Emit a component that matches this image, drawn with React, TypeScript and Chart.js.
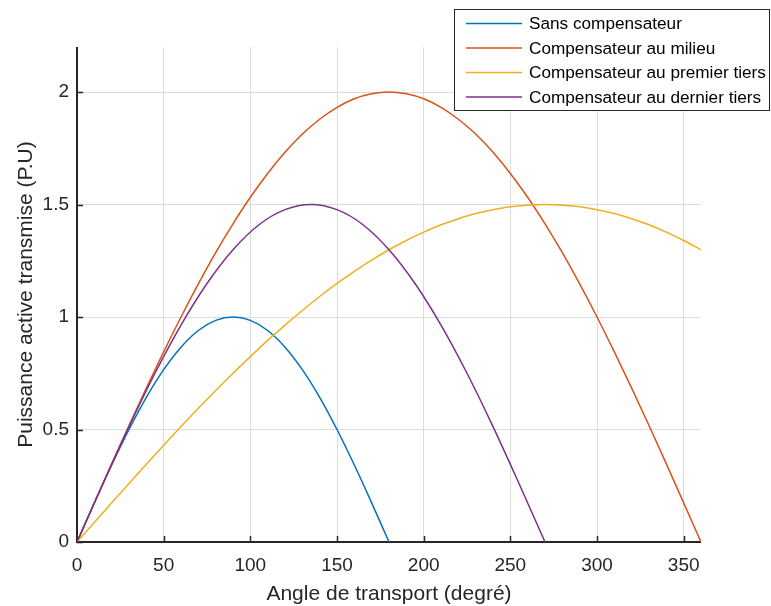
import React, { useEffect, useRef } from "react";
import { Chart, registerables } from "chart.js";

Chart.register(...registerables);

// ---- Data ----
const seriesLabels = [
  "Sans compensateur",
  "Compensateur au milieu",
  "Compensateur au premier tiers",
  "Compensateur au dernier tiers",
];
const seriesColors = ["#0072BD", "#D95319", "#EDB120", "#7E2F8E"];

const xSans = [0, 10, 20, 30, 40, 50, 60, 70, 80, 90, 100, 110, 120, 130, 140, 150, 160, 170, 180];
const ySans = [0, 0.174, 0.342, 0.5, 0.643, 0.766, 0.866, 0.94, 0.985, 1.0, 0.985, 0.94, 0.866, 0.766, 0.643, 0.5, 0.342, 0.174, 0];

const xMilieu = [0, 10, 20, 30, 40, 50, 60, 70, 80, 90, 100, 110, 120, 130, 140, 150, 160, 170, 180, 190, 200, 210, 220, 230, 240, 250, 260, 270, 280, 290, 300, 310, 320, 330, 340, 350, 360];
const yMilieu = [0, 0.174, 0.347, 0.518, 0.684, 0.845, 1.0, 1.147, 1.286, 1.414, 1.532, 1.638, 1.732, 1.813, 1.879, 1.932, 1.97, 1.992, 2.0, 1.992, 1.97, 1.932, 1.879, 1.813, 1.732, 1.638, 1.532, 1.414, 1.286, 1.147, 1.0, 0.845, 0.684, 0.518, 0.347, 0.174, 0];

const xPremier = [0, 10, 20, 30, 40, 50, 60, 70, 80, 90, 100, 110, 120, 130, 140, 150, 160, 170, 180, 190, 200, 210, 220, 230, 240, 250, 260, 270, 280, 290, 300, 310, 320, 330, 340, 350, 360];
const yPremier = [0, 0.087, 0.174, 0.26, 0.346, 0.43, 0.513, 0.594, 0.673, 0.75, 0.824, 0.896, 0.964, 1.029, 1.091, 1.149, 1.203, 1.253, 1.299, 1.34, 1.377, 1.41, 1.437, 1.46, 1.477, 1.49, 1.497, 1.5, 1.497, 1.49, 1.477, 1.46, 1.437, 1.41, 1.377, 1.34, 1.299];

const xDernier = [0, 15, 30, 45, 60, 75, 90, 105, 120, 135, 150, 165, 180, 195, 210, 225, 240, 255, 270];
const yDernier = [0, 0.26, 0.513, 0.75, 0.964, 1.149, 1.299, 1.41, 1.477, 1.5, 1.477, 1.41, 1.299, 1.149, 0.964, 0.75, 0.513, 0.26, 0];

const xTickValues = [0, 50, 100, 150, 200, 250, 300, 350];
const yTickValues = [0, 0.5, 1, 1.5, 2];

const xTitle = "Angle de transport (degré)";
const yTitle = "Puissance active transmise (P.U)";

const FONT = "'Liberation Sans', Arial, Helvetica, sans-serif";
const AXIS_COLOR = "#262626";

function toPoints(xs: number[], ys: number[]) {
  return xs.map((x, i) => ({ x, y: ys[i] }));
}

const decorPlugin = {
  id: "matlabDecor",
  beforeDraw(chart: any) {
    const ctx = chart.ctx;
    ctx.save();
    ctx.fillStyle = "#ffffff";
    ctx.fillRect(0, 0, chart.width, chart.height);
    ctx.restore();
  },
  beforeDatasetsDraw(chart: any) {
    const ctx = chart.ctx;
    const { left, right, top, bottom } = chart.chartArea;
    const xs = chart.scales.x;
    const ys = chart.scales.y;
    ctx.save();
    ctx.strokeStyle = AXIS_COLOR;
    ctx.lineWidth = 1.5;
    // inward ticks
    ctx.beginPath();
    for (const v of xTickValues) {
      const px = Math.round(xs.getPixelForValue(v)) + 0.5;
      ctx.moveTo(px, bottom);
      ctx.lineTo(px, bottom - 6);
    }
    for (const v of yTickValues) {
      const py = Math.round(ys.getPixelForValue(v)) + 0.5;
      ctx.moveTo(left, py);
      ctx.lineTo(left + 6, py);
    }
    ctx.stroke();
    // axis lines
    ctx.lineWidth = 2;
    ctx.beginPath();
    ctx.moveTo(left, top);
    ctx.lineTo(left, bottom);
    ctx.lineTo(right, bottom);
    ctx.stroke();
    ctx.restore();
  },
  afterDraw(chart: any) {
    const ctx = chart.ctx;
    const { left, right, top, bottom } = chart.chartArea;
    ctx.save();
    // axis titles
    ctx.fillStyle = AXIS_COLOR;
    ctx.font = `21px ${FONT}`;
    ctx.textAlign = "center";
    ctx.textBaseline = "alphabetic";
    ctx.fillText(xTitle, (left + right) / 2, 600);
    ctx.save();
    ctx.translate(32, (top + bottom) / 2);
    ctx.rotate(-Math.PI / 2);
    ctx.fillText(yTitle, 0, 0);
    ctx.restore();

    // legend
    const bx = 454.5, by = 9.5, bw = 315, bh = 101;
    ctx.fillStyle = "#ffffff";
    ctx.fillRect(bx, by, bw, bh);
    ctx.strokeStyle = AXIS_COLOR;
    ctx.lineWidth = 1;
    ctx.strokeRect(bx, by, bw, bh);
    const rows = [23.5, 48, 72.5, 97];
    ctx.font = `17.2px ${FONT}`;
    ctx.textAlign = "left";
    ctx.textBaseline = "middle";
    chart.data.datasets.forEach((ds: any, i: number) => {
      const y = rows[i];
      ctx.strokeStyle = ds.borderColor;
      ctx.lineWidth = 1.5;
      ctx.beginPath();
      ctx.moveTo(466, y);
      ctx.lineTo(522, y);
      ctx.stroke();
      ctx.fillStyle = "#000000";
      ctx.fillText(ds.label, 529, y + 1);
    });
    ctx.restore();
  },
};

export default function App() {
  const canvasRef = useRef<HTMLCanvasElement | null>(null);

  useEffect(() => {
    const canvas = canvasRef.current;
    if (!canvas) return;
    const xsList = [xSans, xMilieu, xPremier, xDernier];
    const ysList = [ySans, yMilieu, yPremier, yDernier];
    const chart = new Chart(canvas, {
      type: "line",
      data: {
        datasets: seriesLabels.map((label, i) => ({
          label,
          data: toPoints(xsList[i], ysList[i]),
          borderColor: seriesColors[i],
          backgroundColor: seriesColors[i],
          borderWidth: 1.5,
          pointRadius: 0,
          fill: false,
          cubicInterpolationMode: "monotone" as const,
          order: 4 - i,
        })),
      },
      options: {
        responsive: false,
        animation: false,
        events: [],
        layout: { padding: { left: 0, top: 47, right: 70, bottom: 0 } },
        plugins: {
          legend: { display: false },
          tooltip: { enabled: false },
          title: { display: false },
        },
        scales: {
          x: {
            type: "linear",
            min: 0,
            max: 360,
            grid: { color: "#dcdcdc", lineWidth: 1, drawTicks: false },
            border: { display: false },
            ticks: {
              stepSize: 50,
              padding: 12,
              color: AXIS_COLOR,
              font: { family: FONT, size: 19 },
              maxRotation: 0,
              callback: (v: any) => String(v),
            },
            afterBuildTicks: (scale: any) => {
              scale.ticks = xTickValues.map((v) => ({ value: v }));
            },
            afterFit: (scale: any) => {
              scale.height = 64;
            },
          },
          y: {
            type: "linear",
            min: 0,
            max: 2.2,
            grid: { color: "#dcdcdc", lineWidth: 1, drawTicks: false },
            border: { display: false },
            ticks: {
              stepSize: 0.5,
              padding: 8,
              color: AXIS_COLOR,
              font: { family: FONT, size: 19 },
              callback: (v: any) => String(v),
            },
            afterBuildTicks: (scale: any) => {
              scale.ticks = yTickValues.map((v) => ({ value: v }));
            },
            afterFit: (scale: any) => {
              scale.width = 77;
            },
          },
        },
      },
      plugins: [decorPlugin],
    });
    return () => chart.destroy();
  }, []);

  return (
    <div style={{ position: "fixed", left: 0, top: 0, width: 771, height: 606, background: "#fff" }}>
      <canvas ref={canvasRef} width={771} height={606} style={{ display: "block" }} />
    </div>
  );
}
